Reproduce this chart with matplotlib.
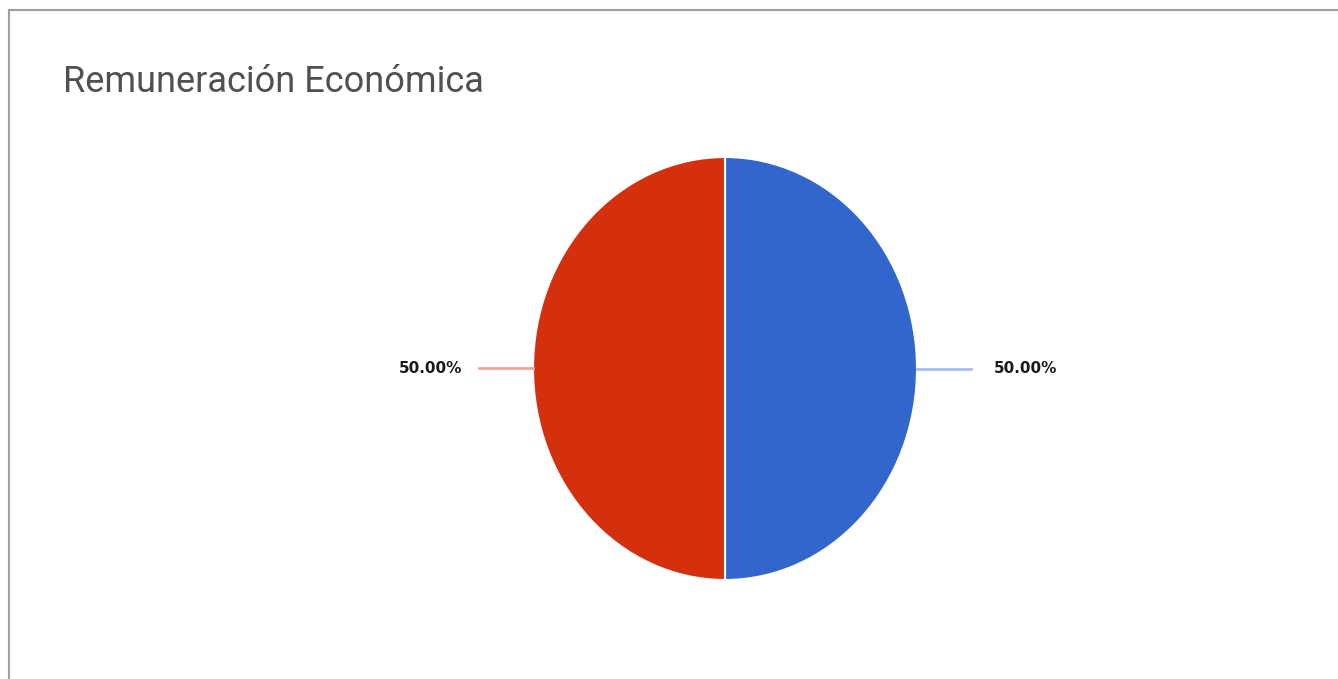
import numpy as np
import matplotlib.pyplot as plt
from matplotlib.lines import Line2D

# Remuneración económica: answer share
categories = ['Sí', 'No']
values = [50, 50]
colors = ['#3366cc', '#d5300e']
leader_colors = ['#a8bde9', '#f0a696']

W, H = 1338, 679
fig = plt.figure(figsize=(W / 100, H / 100), dpi=100)
fig.patch.set_facecolor('white')

# panel frame (only left and top edges are inside the canvas)
fig.add_artist(Line2D([9 / W, 9 / W], [0, 1 - 10 / H], color='#a0a0a0', lw=1.5))
fig.add_artist(Line2D([9 / W, 1], [1 - 10 / H, 1 - 10 / H], color='#a0a0a0', lw=1.5))

fig.text(63 / W, 1 - 82 / H, 'Remuneración Económica', fontsize=26,
         family='Roboto', color='#505050', va='center', ha='left')

# the pie is drawn slightly taller than wide
ax = fig.add_axes([533 / W, 1 - 580 / H, 384 / W, 423 / H])
wedges, _ = ax.pie(values, colors=colors, startangle=90, counterclock=False,
                   wedgeprops=dict(edgecolor='white', linewidth=1.5))
ax.set_aspect('auto')
ax.set_xlim(-1, 1)
ax.set_ylim(-1, 1)

total = sum(values)
for w, v, lc in zip(wedges, values, leader_colors):
    ang = np.deg2rad((w.theta1 + w.theta2) / 2)
    cx, cy = np.cos(ang), np.sin(ang)
    side = 1 if cx >= 0 else -1
    ax.plot([cx, cx * 1.28], [cy, cy * 1.28], color=lc, lw=2, clip_on=False)
    gap = 0.12 if side > 0 else 0.09
    ax.text(cx * 1.28 + side * gap, cy, '{:.2f}%'.format(100 * v / total),
            ha='left' if side > 0 else 'right', va='center',
            fontsize=11, fontweight='bold', color='#1a1a1a')

fig.savefig('out.png', dpi=100)
